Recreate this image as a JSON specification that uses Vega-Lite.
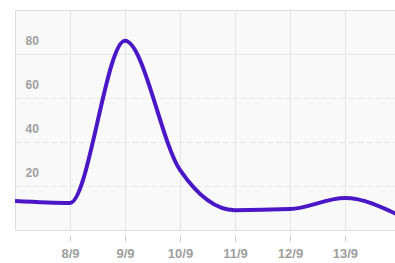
{
  "$schema": "https://vega.github.io/schema/vega-lite/v6.json",
  "width": 380,
  "height": 220,
  "autosize": {"type": "none"},
  "padding": {"left": 15, "top": 10, "right": 0, "bottom": 33},
  "background": "white",
  "config": {
    "view": {"stroke": "#dcdcdc", "fill": "#f9f9f9"},
    "font": "Liberation Sans"
  },
  "data": {
    "values": [
      {"day": 7, "value": 13.2},
      {"day": 8, "value": 12.3},
      {"day": 9, "value": 86},
      {"day": 10, "value": 27.3},
      {"day": 11, "value": 9.0},
      {"day": 12, "value": 9.5},
      {"day": 13, "value": 14.5},
      {"day": 14, "value": 6.5}
    ]
  },
  "mark": {"type": "line", "interpolate": "monotone", "color": "#4a17c6", "strokeWidth": 4, "clip": true},
  "encoding": {
    "x": {
      "field": "day",
      "type": "quantitative",
      "scale": {"domain": [7, 13.91], "nice": false, "zero": false},
      "axis": {
        "values": [8, 9, 10, 11, 12, 13],
        "labelExpr": "datum.value + '/9'",
        "title": null,
        "grid": true,
        "gridColor": "#e4e4e4",
        "domain": false,
        "ticks": true,
        "tickColor": "#cccccc",
        "tickSize": 6,
        "offset": 5,
        "labelPadding": 6,
        "labelFont": "Liberation Sans",
        "labelFontSize": 13,
        "labelFontWeight": "bold",
        "labelColor": "#9e9e9e"
      }
    },
    "y": {
      "field": "value",
      "type": "quantitative",
      "scale": {"domain": [0, 100], "nice": false},
      "axis": {
        "values": [20, 40, 60, 80],
        "title": null,
        "domain": false,
        "ticks": false,
        "grid": true,
        "gridColor": "#e6e6e6",
        "gridDash": {"condition": {"test": "datum.value == 80", "value": []}, "value": [6, 3]},
        "labelAlign": "left",
        "labelBaseline": "middle",
        "labelPadding": -10,
        "labelOffset": -14,
        "labelFont": "Liberation Sans",
        "labelFontSize": 12,
        "labelFontWeight": "bold",
        "labelColor": "#a0a0a0"
      }
    }
  }
}
